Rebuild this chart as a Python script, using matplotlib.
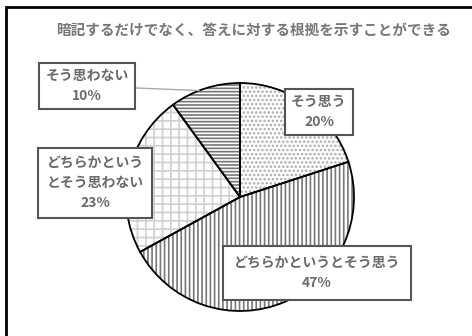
import numpy as np
import matplotlib
matplotlib.use('Agg')
import matplotlib.pyplot as plt
from matplotlib.patches import Rectangle

plt.rcParams['font.family'] = ['Noto Sans CJK JP', 'DejaVu Sans']
plt.rcParams['hatch.linewidth'] = 1.2

# data
title = '暗記するだけでなく、答えに対する根拠を示すことができる'
labels = ['そう思う', 'どちらかというとそう思う', 'どちらかという\nとそう思わない', 'そう思わない']
values = [20, 47, 23, 10]

# styles
hatches = ['....', '||||', '++', '-----']
hatch_colors = ['#aaaaaa', '#777777', '#d0d0d0', '#777777']

W, H = 472, 336
fig = plt.figure(figsize=(W/100, H/100), dpi=100)

def fx(x): return x/W
def fy(y): return 1-y/H

# pie axes: centre (240,197), radius 114 px
cx, cy, r = 240, 197, 114
ax = fig.add_axes([fx(cx-r), fy(cy+r), 2*r/W, 2*r/H])

wedges, _ = ax.pie(values, startangle=90, counterclock=False, radius=1,
                   colors=['white']*4, hatch=hatches, frame=True)
for w, c in zip(wedges, hatch_colors):
    w.set_edgecolor(c)
    w.set_linewidth(0)
ax.pie(values, startangle=90, counterclock=False, radius=1, frame=True,
       wedgeprops=dict(fill=False, edgecolor='black', linewidth=1.3))
ax.set_xlim(-1, 1); ax.set_ylim(-1, 1)
ax.axis('off')

# label boxes (centre positions in pixels)
box_pos = [(319, 112), (317, 273), (95, 183), (87, 86)]
pads = [0.45, 0.75, 0.6, 0.45]
for i, (lab, v) in enumerate(zip(labels, values)):
    txt = f'{lab}\n{v}%'
    bx, by = box_pos[i]
    kw = dict(ha='center', va='center', fontsize=10, color='#6a6a6a', fontweight='bold',
              linespacing=1.55, multialignment='center',
              bbox=dict(boxstyle=f'square,pad={pads[i]}', fc='white', ec='#555555', lw=1.5))
    if i == 3:
        w = wedges[i]
        mid = np.deg2rad((w.theta1 + w.theta2)/2 + 3)
        ax.annotate(txt, xy=(np.cos(mid), np.sin(mid)), xycoords='data',
                    xytext=(fx(bx), fy(by)), textcoords='figure fraction',
                    arrowprops=dict(arrowstyle='-', color='#aaaaaa', lw=1.0,
                                    shrinkA=0, shrinkB=0),
                    annotation_clip=False, **kw)
    else:
        fig.text(fx(bx), fy(by), txt, **kw)

fig.text(fx(254), fy(30), title, ha='center', va='center', fontsize=10.5,
         color='#777777', fontweight='bold')

# outer frame (left and top visible)
fig.patches.append(Rectangle((fx(6), -0.2), 1.2, fy(7)+0.2, transform=fig.transFigure,
                             fill=False, ec='black', lw=2))

fig.savefig('out.png', dpi=100)
